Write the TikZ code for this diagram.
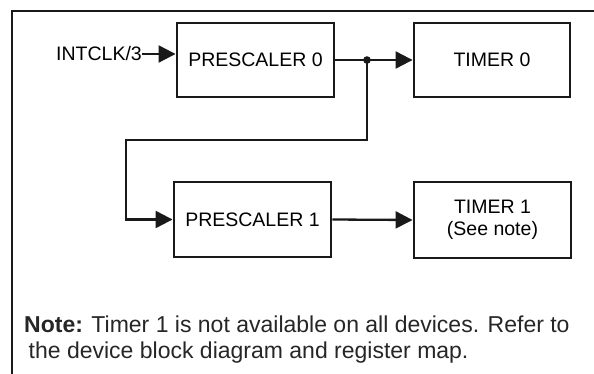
\documentclass[tikz,border=0pt]{standalone}
\usepackage{fontspec}
\setmainfont{Liberation Sans}
\usetikzlibrary{arrows.meta}
\begin{document}
\begin{tikzpicture}[x=1pt,y=-1pt,
  blk/.style={draw=black!90, line width=2.9pt, inner sep=0pt, align=center,
    font=\fontsize{19.5}{22}\selectfont},
  conn/.style={draw=black!90, line width=2.3pt,
    -{Triangle[length=17pt,width=17pt]}},
  lbl/.style={inner sep=0pt, font=\fontsize{19.5}{22}\selectfont},
  notetxt/.style={inner sep=0pt, anchor=base west, font=\fontsize{23}{26}\selectfont, text=black!85}
]
\useasboundingbox (0,0) rectangle (594,374);
% frame (cropped)
\coordinate (fb) at (12,380);
\coordinate (ftl) at (12,11);
\coordinate (fr) at (600,11);
\draw[line width=2.6pt, black!90] (fb) -- (ftl) -- (fr);

\node[blk, minimum width=157pt, minimum height=74pt] (p0) at (255.5,60) {PRESCALER 0};
\node[blk, minimum width=156pt, minimum height=74pt] (t0) at (492,60) {TIMER 0};
\node[blk, minimum width=157pt, minimum height=75pt] (p1) at (252.5,219.5) {PRESCALER 1};
\node[blk, minimum width=157pt, minimum height=76pt] (t1) at (492.5,220) {TIMER 1\\(See note)};

\node[lbl, anchor=east] (in) at (142,54) {INTCLK/3};
\draw[conn] (in.east) -- (p0.west |- in.east);

\coordinate (j) at (367,60);
\coordinate (c1) at (367,140);
\coordinate (c2) at (126,140);
\draw[conn] (p0.east) -- (t0.west);
\draw[conn] (j) -- (c1) -- (c2) |- (p1.west);
\draw[conn] (p1.east) -- (t1.west);
\fill[black!90] (j) circle (3.8pt);

\node[notetxt] (n1) at (24,332) {\textbf{Note:} Timer 1 is not available on all devices. Refer to};
\node[notetxt] (n2) at (28.5,358) {the device block diagram and register map.};
\end{tikzpicture}
\end{document}
